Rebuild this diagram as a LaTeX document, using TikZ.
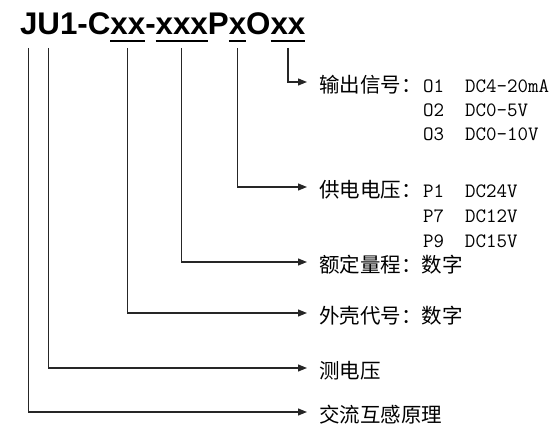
\documentclass[tikz,border=0pt]{standalone}
\usepackage{fontspec}
\setmainfont{Liberation Sans}
\newfontfamily\cjk{Noto Sans CJK SC}
\usepackage{tikz}
\usetikzlibrary{arrows.meta,positioning}

\begin{document}
\begin{tikzpicture}[
x=1pt, y=-1pt,
seg/.style={inner sep=0pt, outer sep=0pt, anchor=base west, font=\fontsize{31.3}{31}\selectfont\bfseries},
uline/.style={line width=2pt},
conn/.style={-{Triangle[length=9pt,width=7pt]}, line width=1.2pt, draw=black!85, shorten >=12pt},
lbl/.style={anchor=west, inner sep=0pt, outer sep=0pt, text height=22pt, text depth=0pt, font=\cjk\fontsize{20.5}{24}\selectfont},
code/.style={anchor=base west, inner sep=0pt, outer sep=0pt, font=\ttfamily\fontsize{20.4}{24}\selectfont}
]
    \useasboundingbox (0,0) rectangle (560,438);

    % Draw the type code
    \node[seg] (tJ) at (20,35) {J};
    \node[seg] (tU) at (tJ.base east) {U};
    \node[seg] (tmid) at (tU.base east) {1-C};
    \node[seg] (tcase) at (tmid.base east) {xx};
    \node[seg] (tdash) at (tcase.base east) {-};
    \node[seg] (trange) at (tdash.base east) {xxx};
    \node[seg] (tP) at (trange.base east) {P};
    \node[seg] (tpwr) at (tP.base east) {x};
    \node[seg] (tO) at (tpwr.base east) {O};
    \node[seg] (tout) at (tO.base east) {xx};

    \foreach \s in {tcase,trange,tpwr,tout}
        \draw[uline] ([yshift=-6pt]\s.base west) -- ([yshift=-6pt]\s.base east);

    % Labels
    \node[lbl] (out) at (319,82) {输出信号：};
    \node[code] (o1) at ([xshift=1.5pt]out.base east) {O1~~DC4-20mA};
    \node[code] (o2) at ([yshift=-24pt]o1.base west) {O2~~DC0-5V};
    \node[code] (o3) at ([yshift=-24pt]o2.base west) {O3~~DC0-10V};

    \node[lbl] (pwr) at (319,187) {供电电压：};
    \node[code] (p1) at ([xshift=1.5pt]pwr.base east) {P1~~DC24V};
    \node[code] (p7) at ([yshift=-25pt]p1.base west) {P7~~DC12V};
    \node[code] (p9) at ([yshift=-25pt]p7.base west) {P9~~DC15V};

    \node[lbl] (rng) at (319,262) {额定量程：数字};
    \node[lbl] (case) at (319,313) {外壳代号：数字};
    \node[lbl] (volt) at (319,368) {测电压};
    \node[lbl] (prin) at (319,412) {交流互感原理};

    % Connectors
    \draw[conn] ([yshift=-13pt]tout.base) |- (out.west);
    \draw[conn] ([yshift=-13pt]tpwr.base) |- (pwr.west);
    \draw[conn] ([yshift=-13pt]trange.base) |- (rng.west);
    \draw[conn] ([yshift=-13pt]tcase.base) |- (case.west);
    \draw[conn] ([yshift=-13pt]tU.base) |- (volt.west);
    \draw[conn] ([yshift=-13pt]tJ.base) |- (prin.west);
\end{tikzpicture}
\end{document}
